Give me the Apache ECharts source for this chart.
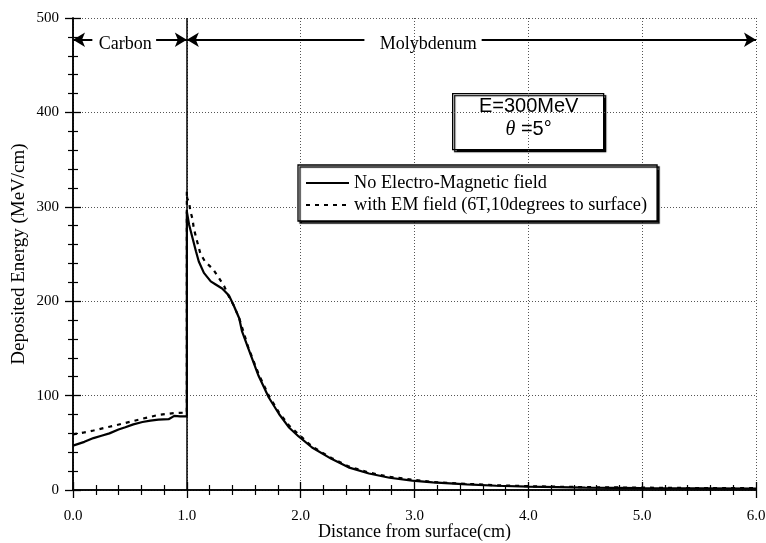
<!DOCTYPE html>
<html>
<head>
<meta charset="utf-8">
<script src="https://cdn.jsdelivr.net/npm/echarts@6/dist/echarts.min.js"></script>
<style>
  html, body { margin: 0; padding: 0; background: #fff; }
  #chart { width: 766px; height: 543px; }
</style>
</head>
<body>
<div id="chart"></div>
<script>
// axis ranges
const xRange = [0, 6];
const yRange = [0, 500];
const boundaryX = 1.0; // carbon / molybdenum interface

// deposited energy, no field  [distance cm, MeV/cm]
const noField = [
  [0, 47], [0.1, 51], [0.18, 55], [0.25, 57.5], [0.32, 60], [0.4, 64], [0.46, 66.5],
  [0.53, 69.5], [0.61, 72], [0.68, 73.5], [0.75, 74.5], [0.84, 75], [0.89, 78.5],
  [0.94, 78], [1.0, 78],
  [1.0, 295], [1.02, 281], [1.05, 267], [1.08, 253], [1.105, 242], [1.15, 230],
  [1.21, 221], [1.25, 218], [1.31, 213.5], [1.37, 206], [1.41, 196], [1.46, 182],
  [1.485, 168], [1.54, 150], [1.63, 121], [1.72, 98], [1.81, 80.5], [1.895, 66.5],
  [1.98, 57], [2.1, 45], [2.27, 33], [2.42, 24], [2.6, 17.5], [2.78, 13], [2.98, 10],
  [3.16, 8], [3.46, 6], [3.72, 4.5], [4.0, 3.5], [4.5, 2.5], [5.0, 2], [5.5, 1.8], [6.0, 1.5]
];

// deposited energy, with EM field (6T, 10 deg)
const emField = [
  [0, 59], [0.1, 61], [0.18, 63], [0.32, 67], [0.46, 71], [0.61, 75.5], [0.75, 79.5],
  [0.89, 81.5], [1.0, 82],
  [1.0, 316], [1.003, 309], [1.02, 305], [1.03, 296], [1.05, 287], [1.06, 278],
  [1.08, 268], [1.10, 259], [1.12, 250], [1.16, 242], [1.23, 234], [1.28, 225],
  [1.33, 215.5], [1.36, 207], [1.41, 196], [1.46, 182], [1.54, 151], [1.63, 123],
  [1.72, 100], [1.81, 82], [1.9, 68], [2.0, 57], [2.1, 46], [2.27, 34], [2.42, 25],
  [2.6, 18.5], [2.78, 14], [2.98, 11], [3.16, 8.5], [3.46, 6.5], [3.72, 5], [4.0, 4],
  [4.5, 3], [5.0, 2.5], [5.5, 2], [6.0, 2]
];

// material region arrows: [from, to, arrow at start?, arrow at end?]
const arrowY = 477;
const labelY = 472;
const arrowSegments = [
  [0, 0.17, true, false],
  [0.73, 1.0, false, true],
  [1.0, 2.56, true, false],
  [3.59, 6.0, false, true]
];
const regionLabels = [['Carbon', 0.46], ['Molybdenum', 3.12]];

const serif = 'Liberation Serif';

const chart = echarts.init(document.getElementById('chart'));

const tickStyle = { inside: true, length: 8, lineStyle: { color: '#000', width: 1.3 } };
const minorStyle = { show: true, splitNumber: 5, length: 5, lineStyle: { color: '#000', width: 1.2 } };
const gridDots = { show: true, lineStyle: { color: '#555', type: [1, 2], width: 1 } };

chart.setOption({
  animation: false,
  grid: { left: 73, right: 10, top: 18, bottom: 53, outerBoundsMode: 'none' },
  legend: {
    left: 298, top: 165,
    orient: 'vertical',
    data: ['No Electro-Magnetic field', 'with EM field (6T,10degrees to surface)'],
    itemWidth: 43, itemHeight: 14, itemGap: 4,
    padding: [9, 10, 7, 7],
    backgroundColor: '#fff',
    borderColor: '#000', borderWidth: 1.3,
    shadowColor: '#000', shadowBlur: 1, shadowOffsetX: 2, shadowOffsetY: 2,
    itemStyle: { opacity: 0 },
    textStyle: { fontFamily: serif, fontSize: 18.3, color: '#000', lineHeight: 17 }
  },
  xAxis: [
    {
      type: 'value', min: xRange[0], max: xRange[1], interval: 1,
      name: 'Distance from surface(cm)', nameLocation: 'middle', nameGap: 33,
      nameMoveOverlap: false,
      nameTextStyle: { fontFamily: serif, fontSize: 18, color: '#000' },
      axisLine: { lineStyle: { color: '#000', width: 1.5 } },
      axisTick: tickStyle, minorTick: minorStyle,
      axisLabel: { margin: 19, fontFamily: serif, fontSize: 15, color: '#000',
        formatter: v => v.toFixed(1) },
      splitLine: gridDots
    },
    {
      type: 'value', position: 'top', min: xRange[0], max: xRange[1], interval: 1,
      axisLine: { show: true, lineStyle: { color: '#000', width: 1.5 } },
      axisTick: tickStyle, minorTick: minorStyle,
      axisLabel: { show: false }, splitLine: { show: false }
    }
  ],
  yAxis: [
    {
      type: 'value', min: yRange[0], max: yRange[1], interval: 100,
      name: 'Deposited Energy (MeV/cm)', nameLocation: 'middle', nameGap: 44,
      nameMoveOverlap: false,
      nameTextStyle: { fontFamily: serif, fontSize: 19, color: '#000' },
      axisLine: { show: true, lineStyle: { color: '#000', width: 1.5 } },
      axisTick: tickStyle, minorTick: minorStyle,
      axisLabel: { margin: 14, fontFamily: serif, fontSize: 15, color: '#000' },
      splitLine: gridDots
    },
    {
      type: 'value', position: 'right', min: yRange[0], max: yRange[1], interval: 100,
      axisLine: { show: true, lineStyle: { color: '#000', width: 1.5 } },
      axisTick: tickStyle, minorTick: minorStyle,
      axisLabel: { show: false }, splitLine: { show: false }
    }
  ],
  series: [
    {
      name: 'No Electro-Magnetic field',
      type: 'line',
      data: noField,
      symbol: 'none',
      lineStyle: { color: '#000', width: 2.2 },
      itemStyle: { color: '#000' },
      z: 3,
      markLine: {
        silent: true,
        symbol: 'none',
        label: { show: false },
        lineStyle: { color: '#000', width: 1.5, type: 'solid' },
        data: [{ xAxis: boundaryX }]
      }
    },
    {
      name: 'with EM field (6T,10degrees to surface)',
      type: 'line',
      data: emField,
      symbol: 'none',
      lineStyle: { color: '#000', width: 2.2, type: [4, 5] },
      itemStyle: { color: '#000' },
      z: 2
    },
    {
      name: 'regions',
      type: 'line',
      data: [],
      silent: true,
      markLine: {
        silent: true,
        symbolSize: [11, 12],
        label: { show: false },
        lineStyle: { color: '#000', width: 2, type: 'solid' },
        data: arrowSegments.map(s => [
          { coord: [s[0], arrowY], symbol: s[2] ? 'arrow' : 'none' },
          { coord: [s[1], arrowY], symbol: s[3] ? 'arrow' : 'none' }
        ])
      },
      markPoint: {
        silent: true,
        symbol: 'circle', symbolSize: 0,
        itemStyle: { color: 'transparent' },
        label: { show: true, position: 'inside', fontFamily: serif, fontSize: 18, color: '#000' },
        data: regionLabels.map(r => ({ coord: [r[1], labelY], label: { formatter: r[0] } }))
      }
    }
  ],
  graphic: [
    {
      type: 'group', left: 452, top: 93,
      children: [
        {
          type: 'rect', shape: { x: 0, y: 0, width: 151, height: 56 },
          style: { fill: '#fff', stroke: '#000', lineWidth: 1.3,
            shadowColor: '#000', shadowBlur: 1, shadowOffsetX: 2, shadowOffsetY: 2 }
        },
        {
          type: 'text', x: 76, y: 13,
          style: { text: 'E=300MeV', fontFamily: 'Liberation Sans', fontSize: 20,
            fill: '#000', align: 'center', verticalAlign: 'middle' }
        },
        {
          type: 'text', x: 76, y: 36,
          style: { text: '{th|θ} =5°', align: 'center', verticalAlign: 'middle',
            fontFamily: 'Liberation Sans', fontSize: 20, fill: '#000',
            rich: { th: { fontFamily: 'Liberation Serif', fontStyle: 'italic', fontSize: 20 } } }
        }
      ]
    }
  ]
});
</script>
</body>
</html>
